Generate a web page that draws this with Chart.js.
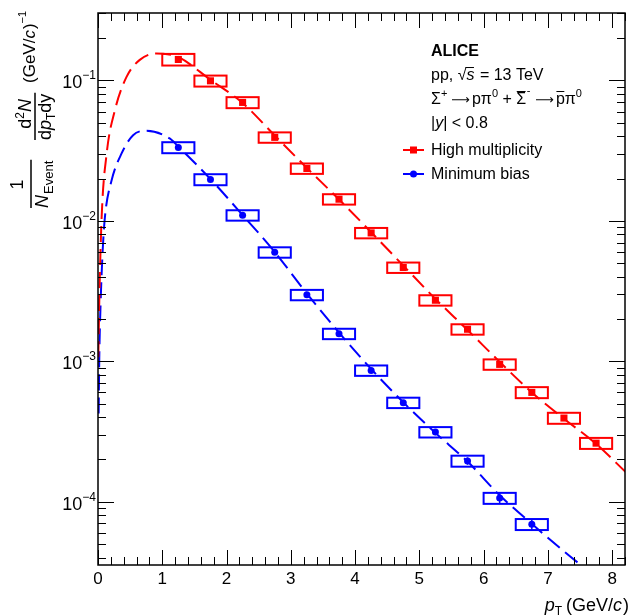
<!DOCTYPE html>
<html>
<head>
<meta charset="utf-8">
<script src="https://cdn.jsdelivr.net/npm/chart.js@4.4.1/dist/chart.umd.min.js"></script>
<style>
html, body { margin: 0; padding: 0; background: #ffffff; }
#wrap { width: 630px; height: 615px; }
</style>
</head>
<body>
<div id="wrap"><canvas id="spectrumChart" width="630" height="615"></canvas></div>
<script>
// pT bin centres (GeV/c)
const highMultPt = [1.25, 1.75, 2.25, 2.75, 3.25, 3.75, 4.25, 4.75, 5.25, 5.75, 6.25, 6.75, 7.25, 7.75];
const minBiasPt = [1.25, 1.75, 2.25, 2.75, 3.25, 3.75, 4.25, 4.75, 5.25, 5.75, 6.25, 6.75];

// yields
const highMultValues = [0.141, 0.0993, 0.0697, 0.0393, 0.0236, 0.01426, 0.0082, 0.00465, 0.00272, 0.00169, 0.00095, 0.0006, 0.000394, 0.000261];
const minBiasValues = [0.0333, 0.0197, 0.01096, 0.00597, 0.00297, 0.00157, 0.00086, 0.000507, 0.000313, 0.000195, 0.000106, 0.000069];

// relative uncertainties (statistical bars, systematic boxes)
const highMultStat = [0.01, 0.01, 0.01, 0.01, 0.01, 0.01, 0.015, 0.015, 0.02, 0.02, 0.025, 0.03, 0.035, 0.04];
const highMultSys = [0.095, 0.09, 0.09, 0.085, 0.085, 0.085, 0.085, 0.085, 0.085, 0.085, 0.085, 0.09, 0.09, 0.09];
const minBiasStat = [0.01, 0.01, 0.01, 0.015, 0.02, 0.025, 0.03, 0.04, 0.05, 0.06, 0.085, 0.09];
const minBiasSys = [0.09, 0.09, 0.085, 0.085, 0.085, 0.085, 0.085, 0.085, 0.085, 0.09, 0.09, 0.09];
const boxHalfWidth = 0.25;

// fit curves, points
const highMultFitPt = [0.005, 0.02, 0.057, 0.135, 0.263, 0.444, 0.65, 0.909, 1.166, 1.25, 1.75, 2.25, 2.75, 3.25, 3.75, 4.25, 4.75, 5.25, 5.75, 6.25, 6.75, 7.25, 7.75, 8.22];
const highMultFitValues = [0.00107, 0.0027, 0.0107, 0.0302, 0.0614, 0.106, 0.140, 0.1556, 0.151, 0.147, 0.101, 0.069, 0.0405, 0.0238, 0.0142, 0.0083, 0.0048, 0.00278, 0.00167, 0.00099, 0.0006, 0.00039, 0.000258, 0.000161];
const minBiasFitPt = [0.01, 0.02, 0.042, 0.073, 0.108, 0.212, 0.367, 0.546, 0.754, 1.115, 1.25, 1.75, 2.25, 2.75, 3.25, 3.75, 4.25, 4.75, 5.25, 5.75, 6.25, 6.75, 7.25, 7.65];
const minBiasFitValues = [0.000425, 0.00107, 0.00272, 0.00617, 0.01067, 0.01946, 0.0302, 0.0407, 0.0438, 0.0386, 0.0338, 0.0198, 0.0110, 0.0060, 0.00303, 0.0016, 0.00088, 0.00051, 0.000309, 0.000193, 0.000111, 0.0000695, 0.0000443, 0.0000315];

// axis ranges and tick labels
const xMin = 0, xMax = 8.2;
const yMin = 3.54e-5, yMax = 0.302;
const xTickLabels = ['0', '1', '2', '3', '4', '5', '6', '7', '8'];
const yTickExponents = [-1, -2, -3, -4];

const RED = '#ff0000';
const BLUE = '#0000ff';
const FONT = '"Liberation Sans", Arial, Helvetica, sans-serif';
const ARROW = '\u27f6';
const ARROW_FONT = '"DejaVu Sans", sans-serif';

function toPoints(xs, ys) {

    return xs.map((x, i) => ({ x: x, y: ys[i] }));
}

// draws a row of text pieces (sub/superscripts, overlines), returns its width
function drawRich(ctx, x, y, parts, measureOnly) {

    let cx = x;
    parts.forEach(p => {
        ctx.font = (p.style || '') + ' ' + p.size + 'px ' + (p.family || FONT);
        const w = ctx.measureText(p.t).width;
        if (!measureOnly) {
            ctx.fillText(p.t, cx, y + (p.dy || 0));
            if (p.over) {
                const oy = y + (p.dy || 0) - p.size * 0.78;
                ctx.beginPath();
                ctx.moveTo(cx + (p.overFrom || 0.5), oy);
                ctx.lineTo(cx + w - 0.5, oy);
                ctx.stroke();
            }
        }
        cx += w + (p.gap || 0);
    });
    return cx - x;
}

// systematic boxes and statistical bars
const uncertaintyPlugin = {
    id: 'uncertainties',
    beforeDatasetsDraw(chart) {

        const ctx = chart.ctx;
        const xs = chart.scales.x, ys = chart.scales.y;
        const area = chart.chartArea;
        ctx.save();
        ctx.beginPath();
        ctx.rect(area.left, area.top, area.right - area.left, area.bottom - area.top);
        ctx.clip();
        ctx.lineWidth = 2;
        const drawBoxes = (pts, vals, sys, color) => {
            ctx.strokeStyle = color;
            pts.forEach((pt, i) => {
                const l = xs.getPixelForValue(pt - boxHalfWidth);
                const r = xs.getPixelForValue(pt + boxHalfWidth);
                const t = ys.getPixelForValue(vals[i] * (1 + sys[i]));
                const b = ys.getPixelForValue(vals[i] * (1 - sys[i]));
                ctx.strokeRect(l, t, r - l, b - t);
            });
        };
        drawBoxes(highMultPt, highMultValues, highMultSys, RED);
        drawBoxes(minBiasPt, minBiasValues, minBiasSys, BLUE);
        ctx.restore();
    },
    afterDatasetsDraw(chart) {

        const ctx = chart.ctx;
        const xs = chart.scales.x, ys = chart.scales.y;
        ctx.save();
        ctx.lineWidth = 1.5;
        const drawBars = (pts, vals, stat, color) => {
            ctx.strokeStyle = color;
            pts.forEach((pt, i) => {
                const px = xs.getPixelForValue(pt);
                ctx.beginPath();
                ctx.moveTo(px, ys.getPixelForValue(vals[i] * (1 + stat[i])));
                ctx.lineTo(px, ys.getPixelForValue(vals[i] * (1 - stat[i])));
                ctx.stroke();
            });
        };
        drawBars(highMultPt, highMultValues, highMultStat, RED);
        drawBars(minBiasPt, minBiasValues, minBiasStat, BLUE);
        ctx.restore();
    }
};

// ROOT style frame, inward ticks, labels, titles and legend
const framePlugin = {
    id: 'rootFrame',
    afterDraw(chart) {

        const ctx = chart.ctx;
        const xs = chart.scales.x, ys = chart.scales.y;
        const a = chart.chartArea;
        ctx.save();
        ctx.strokeStyle = '#000';
        ctx.fillStyle = '#000';

        // ticks
        ctx.lineWidth = 1;
        ctx.beginPath();
        for (let i = 0; i <= 41; i++) {
            const v = i * 0.2;
            if (v > xMax + 1e-9) break;
            const px = Math.round(xs.getPixelForValue(v)) + 0.5;
            const len = (i % 5 === 0) ? 15 : 8;
            ctx.moveTo(px, a.bottom); ctx.lineTo(px, a.bottom - len);
            ctx.moveTo(px, a.top); ctx.lineTo(px, a.top + len);
        }
        for (let e = -5; e <= 0; e++) {
            for (let m = 1; m <= 9; m++) {
                const v = m * Math.pow(10, e);
                if (v < yMin || v > yMax) continue;
                const py = Math.round(ys.getPixelForValue(v)) + 0.5;
                const len = (m === 1) ? 16 : 8;
                ctx.moveTo(a.left, py); ctx.lineTo(a.left + len, py);
                ctx.moveTo(a.right, py); ctx.lineTo(a.right - len, py);
            }
        }
        ctx.stroke();

        // frame
        ctx.lineWidth = 1.5;
        ctx.strokeRect(a.left, a.top, a.right - a.left, a.bottom - a.top);

        // x tick labels
        ctx.font = '17px ' + FONT;
        ctx.textAlign = 'center';
        ctx.textBaseline = 'alphabetic';
        xTickLabels.forEach((lab, i) => {
            ctx.fillText(lab, xs.getPixelForValue(i), 584);
        });

        // y tick labels 10^n
        ctx.textAlign = 'left';
        ctx.lineWidth = 1;
        yTickExponents.forEach(ex => {
            const py = ys.getPixelForValue(Math.pow(10, ex));
            const parts = [{ t: '10', size: 18 }, { t: '\u2212' + (-ex), size: 12, dy: -9 }];
            const w = drawRich(ctx, 0, 0, parts, true);
            drawRich(ctx, 96 - w, py + 8, parts);
        });

        // x axis title
        const xt = [{ t: 'p', size: 18, style: 'italic' }, { t: 'T', size: 12, dy: 4, gap: 4 }, { t: '(GeV/', size: 18 }, { t: 'c', size: 18, style: 'italic', gap: 1 }, { t: ')', size: 18 }];
        const xw = drawRich(ctx, 0, 0, xt, true);
        drawRich(ctx, 629 - xw, 611, xt);

        // y axis title, rotated
        ctx.save();
        ctx.translate(0, 208);
        ctx.rotate(-Math.PI / 2);
        ctx.lineWidth = 1.5;
        // 1 / N_Event
        const den1 = [{ t: 'N', size: 18, style: 'italic', gap: 1 }, { t: 'Event', size: 13, dy: 5 }];
        const den1w = drawRich(ctx, 0, 48, den1);
        ctx.font = '18px ' + FONT;
        ctx.fillText('1', den1w / 2 - ctx.measureText('1').width / 2, 23);
        ctx.beginPath(); ctx.moveTo(0, 31); ctx.lineTo(den1w + 1, 31); ctx.stroke();
        // d2N / dpT dy
        const frac2Start = 68;
        const num2 = [{ t: 'd', size: 18 }, { t: '2', size: 12, dy: -7 }, { t: 'N', size: 18, style: 'italic' }];
        const den2 = [{ t: 'd', size: 18 }, { t: 'p', size: 18, style: 'italic' }, { t: 'T', size: 12, dy: 4 }, { t: 'dy', size: 18 }];
        const den2w = drawRich(ctx, frac2Start, 51, den2);
        const num2w = drawRich(ctx, 0, 0, num2, true);
        drawRich(ctx, frac2Start + (den2w - num2w) / 2 + 3, 31, num2);
        ctx.beginPath(); ctx.moveTo(frac2Start, 35); ctx.lineTo(frac2Start + den2w + 1, 35); ctx.stroke();
        // (GeV/c)^-1
        drawRich(ctx, 125, 35, [{ t: '(GeV/', size: 17 }, { t: 'c', size: 17, style: 'italic', gap: 1 }, { t: ')', size: 17 }, { t: '\u22121', size: 11, dy: -9 }]);
        ctx.restore();

        // annotation text
        ctx.lineWidth = 1;
        ctx.font = 'bold 16px ' + FONT;
        ctx.fillText('ALICE', 431, 56);
        drawRich(ctx, 431, 80, [
            { t: 'pp, ', size: 16 },
            { t: '\u221a', size: 16 },
            { t: 's', size: 16, style: 'italic', over: true, overFrom: -1, gap: 1 },
            { t: ' = 13 TeV', size: 16 }
        ]);
        drawRich(ctx, 431, 104, [
            { t: '\u03a3', size: 16 }, { t: '+', size: 11, dy: -7, gap: 4 },
            { t: ARROW, size: 13, family: ARROW_FONT, gap: 2 },
            { t: 'p\u03c0', size: 16 }, { t: '0', size: 11, dy: -7 },
            { t: ' + ', size: 16 },
            { t: '\u03a3', size: 16, over: true, gap: 0.5 }, { t: '-', size: 11, dy: -10, gap: 5 },
            { t: ARROW, size: 13, family: ARROW_FONT, gap: 2 },
            { t: 'p', size: 16, over: true }, { t: '\u03c0', size: 16 }, { t: '0', size: 11, dy: -7 }
        ]);
        drawRich(ctx, 431, 128, [
            { t: '|', size: 16 }, { t: 'y', size: 16, style: 'italic' }, { t: '| < 0.8', size: 16 }
        ]);

        // legend
        const legendRows = [
            { label: 'High multiplicity', color: RED, y: 150, marker: 'rect' },
            { label: 'Minimum bias', color: BLUE, y: 174, marker: 'circle' }
        ];
        legendRows.forEach(row => {
            ctx.strokeStyle = row.color;
            ctx.fillStyle = row.color;
            ctx.lineWidth = 2;
            ctx.beginPath(); ctx.moveTo(403, row.y); ctx.lineTo(424, row.y); ctx.stroke();
            if (row.marker === 'rect') {
                ctx.fillRect(410, row.y - 3.5, 7, 7);
            } else {
                ctx.beginPath(); ctx.arc(413.5, row.y, 3.5, 0, Math.PI * 2); ctx.fill();
            }
            ctx.fillStyle = '#000';
            ctx.font = '16px ' + FONT;
            ctx.fillText(row.label, 431, row.y + 5);
        });
        ctx.restore();
    }
};

function initializeChart() {

    const ctx = document.getElementById('spectrumChart').getContext('2d');

    new Chart(ctx, {
        type: 'scatter',
        data: {
            datasets: [
                {
                    label: 'High multiplicity fit',
                    data: toPoints(highMultFitPt, highMultFitValues),
                    showLine: true,
                    borderColor: RED,
                    borderWidth: 2,
                    borderDash: [16, 7],
                    pointRadius: 0,
                    cubicInterpolationMode: 'monotone',
                    fill: false
                },
                {
                    label: 'Minimum bias fit',
                    data: toPoints(minBiasFitPt, minBiasFitValues),
                    showLine: true,
                    borderColor: BLUE,
                    borderWidth: 2,
                    borderDash: [16, 7],
                    pointRadius: 0,
                    cubicInterpolationMode: 'monotone',
                    fill: false
                },
                {
                    label: 'High multiplicity',
                    data: toPoints(highMultPt, highMultValues),
                    pointStyle: 'rect',
                    pointRadius: 5,
                    pointBackgroundColor: RED,
                    pointBorderColor: RED,
                    pointBorderWidth: 0
                },
                {
                    label: 'Minimum bias',
                    data: toPoints(minBiasPt, minBiasValues),
                    pointStyle: 'circle',
                    pointRadius: 3.5,
                    pointBackgroundColor: BLUE,
                    pointBorderColor: BLUE,
                    pointBorderWidth: 0
                }
            ]
        },
        options: {
            responsive: false,
            animation: false,
            devicePixelRatio: 1,
            layout: { padding: { left: 98, right: 1, top: 13, bottom: 50 } },
            plugins: {
                legend: { display: false },
                tooltip: { enabled: false }
            },
            scales: {
                x: { type: 'linear', min: xMin, max: xMax, display: false },
                y: { type: 'logarithmic', min: yMin, max: yMax, display: false }
            }
        },
        plugins: [uncertaintyPlugin, framePlugin]
    });
}

window.onload = function () {

    initializeChart();
};
</script>
</body>
</html>
